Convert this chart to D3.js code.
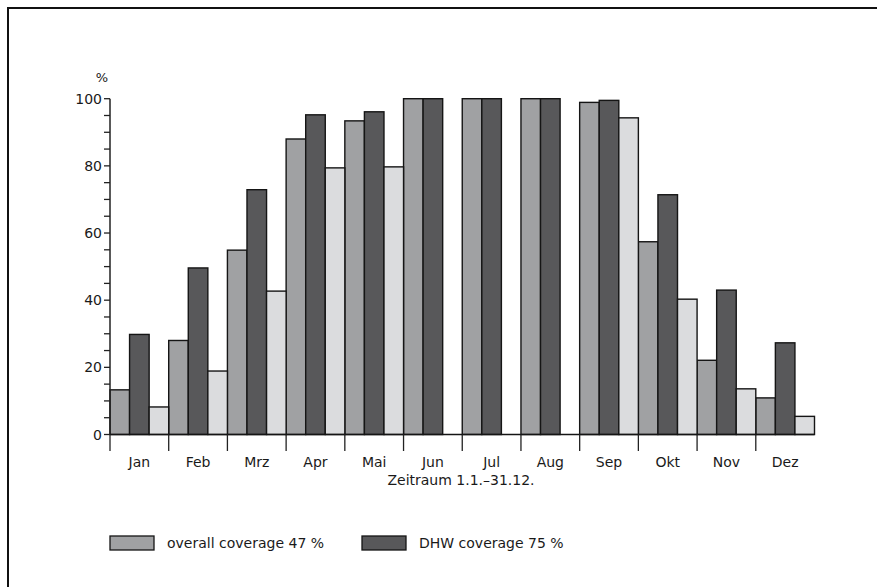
<!DOCTYPE html>
<html><head><meta charset="utf-8">
<script src="https://cdn.jsdelivr.net/npm/d3@7"></script>
<style>body{margin:0;background:#fff}svg{display:block}text{font-family:"DejaVu Sans",sans-serif;fill:#1a1a1a}</style>
</head><body><svg id="c" width="877" height="587"></svg>
<script>
const months = ["Jan","Feb","Mrz","Apr","Mai","Jun","Jul","Aug","Sep","Okt","Nov","Dez"];
const overall = [13.3,28.0,54.9,88.0,93.4,100,100,100,98.9,57.4,22.1,10.9];
const dhw = [29.8,49.6,72.9,95.2,96.1,100,100,100,99.5,71.4,43.0,27.3];
const third = [8.2,18.9,42.7,79.4,79.7,0,0,0,94.3,40.3,13.6,5.4];
const seriesNames = ["overall coverage 47 %","DHW coverage 75 %",""];
const seriesColors = ["#a0a1a3","#58585a","#dbdcde"];
const yTicks = [0,20,40,60,80,100];

const svg = d3.select("#c");
// frame
svg.append("path").attr("d","M8,590 V8 H880").attr("fill","none").attr("stroke","#111").attr("stroke-width",2);

const x0=110, x1=814.5, yBase=434.5, yTop=98.7;
const x = d3.scaleBand().domain(months).range([x0,x1]).padding(0);
const xs = d3.scaleBand().domain([0,1,2]).range([0,x.bandwidth()]).padding(0);
const y = d3.scaleLinear().domain([0,100]).range([yBase,yTop]);

const data = [overall,dhw,third];
const g = svg.append("g");
data.forEach((arr,si)=>{
  g.selectAll(null).data(arr.map((v,i)=>({v,m:months[i]})).filter(d=>d.v>0)).enter().append("rect")
    .attr("x",d=>x(d.m)+xs(si)).attr("width",xs.bandwidth())
    .attr("y",d=>y(d.v)).attr("height",d=>yBase-y(d.v))
    .attr("fill",seriesColors[si]).attr("stroke","#151515").attr("stroke-width",1.4);
});

// y axis
const ya = svg.append("g").attr("transform",`translate(${x0},0)`);
ya.append("line").attr("x1",0).attr("x2",0).attr("y1",yBase).attr("y2",yTop).attr("stroke","#222").attr("stroke-width",1.5);
d3.range(0,101,5).forEach(v=>{
  ya.append("line").attr("x1",-6).attr("x2",0).attr("y1",y(v)).attr("y2",y(v)).attr("stroke","#222").attr("stroke-width",1.3);
});
yTicks.forEach(v=>{
  ya.append("text").attr("x",-8).attr("y",y(v)).attr("dy","0.36em").attr("text-anchor","end").attr("font-size",14).text(v);
});
svg.append("text").attr("x",102).attr("y",82).attr("text-anchor","middle").attr("font-size",13).text("%");

// x axis
const xa = svg.append("g");
xa.append("line").attr("x1",x0).attr("x2",x1).attr("y1",yBase).attr("y2",yBase).attr("stroke","#151515").attr("stroke-width",1.5);
months.forEach(m=>{
  xa.append("line").attr("x1",x(m)).attr("x2",x(m)).attr("y1",yBase).attr("y2",451).attr("stroke","#222").attr("stroke-width",1.3);
  xa.append("text").attr("x",x(m)+x.bandwidth()/2).attr("y",467).attr("text-anchor","middle").attr("font-size",14).text(m);
});
svg.append("text").attr("x",461).attr("y",485).attr("text-anchor","middle").attr("font-size",14).text("Zeitraum 1.1.–31.12.");

// legend
const legX=[110,362];
[0,1].forEach(i=>{
  svg.append("rect").attr("x",legX[i]).attr("y",536).attr("width",44).attr("height",14).attr("fill",seriesColors[i]).attr("stroke","#151515").attr("stroke-width",1.3);
  svg.append("text").attr("x",legX[i]+57).attr("y",543).attr("dy","0.36em").attr("font-size",14).text(seriesNames[i]);
});
</script></body></html>
